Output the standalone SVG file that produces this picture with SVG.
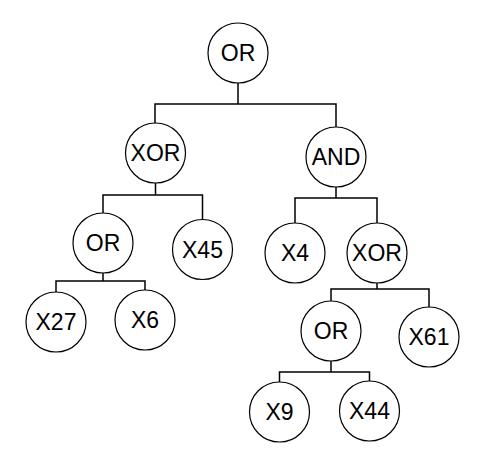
<svg xmlns="http://www.w3.org/2000/svg" width="483" height="465" viewBox="0 0 483 465">
<style>
.n circle{fill:#fff;stroke:#000;stroke-width:1.2}
.n text{font-family:"Liberation Sans",Arial,sans-serif;font-size:23px;text-anchor:middle;fill:#000}
.c path{fill:none;stroke:#000;stroke-width:1.5}
</style>
<rect width="483" height="465" fill="#fff"/>
<g id="connectors" class="c">
<path d="M238 83V104M155 123V104H336V127"/>
<path d="M155.5 183V195M103 213V195H202.5V219"/>
<path d="M103 273V281M56 292V281H145V290"/>
<path d="M336 187V198M295 223V198H377V223"/>
<path d="M377 283V289M331 301V289H429V307"/>
<path d="M331 361V372M279.5 382V372H369.5V381"/>
</g>
<g id="n-or-root" class="n"><circle cx="238" cy="53" r="30"/><text x="238" y="61">OR</text></g>
<g id="n-xor-left" class="n"><circle cx="155.5" cy="153" r="30"/><text x="155.5" y="161">XOR</text></g>
<g id="n-and" class="n"><circle cx="336" cy="157" r="30"/><text x="336" y="165">AND</text></g>
<g id="n-or-mid" class="n"><circle cx="103" cy="243" r="30"/><text x="103" y="251">OR</text></g>
<g id="n-x45" class="n"><circle cx="202.5" cy="249.5" r="30"/><text x="202.5" y="257.5">X45</text></g>
<g id="n-x4" class="n"><circle cx="295" cy="253" r="30"/><text x="295" y="261">X4</text></g>
<g id="n-xor-right" class="n"><circle cx="377" cy="253" r="30"/><text x="377" y="261">XOR</text></g>
<g id="n-x27" class="n"><circle cx="56" cy="322" r="30"/><text x="56" y="330">X27</text></g>
<g id="n-x6" class="n"><circle cx="145" cy="320" r="30"/><text x="145" y="328">X6</text></g>
<g id="n-or-low" class="n"><circle cx="331" cy="331" r="30"/><text x="331" y="339">OR</text></g>
<g id="n-x61" class="n"><circle cx="429" cy="337" r="30"/><text x="429" y="345">X61</text></g>
<g id="n-x9" class="n"><circle cx="279.5" cy="412" r="30"/><text x="279.5" y="420">X9</text></g>
<g id="n-x44" class="n"><circle cx="369.5" cy="411" r="30"/><text x="369.5" y="419">X44</text></g>
</svg>
